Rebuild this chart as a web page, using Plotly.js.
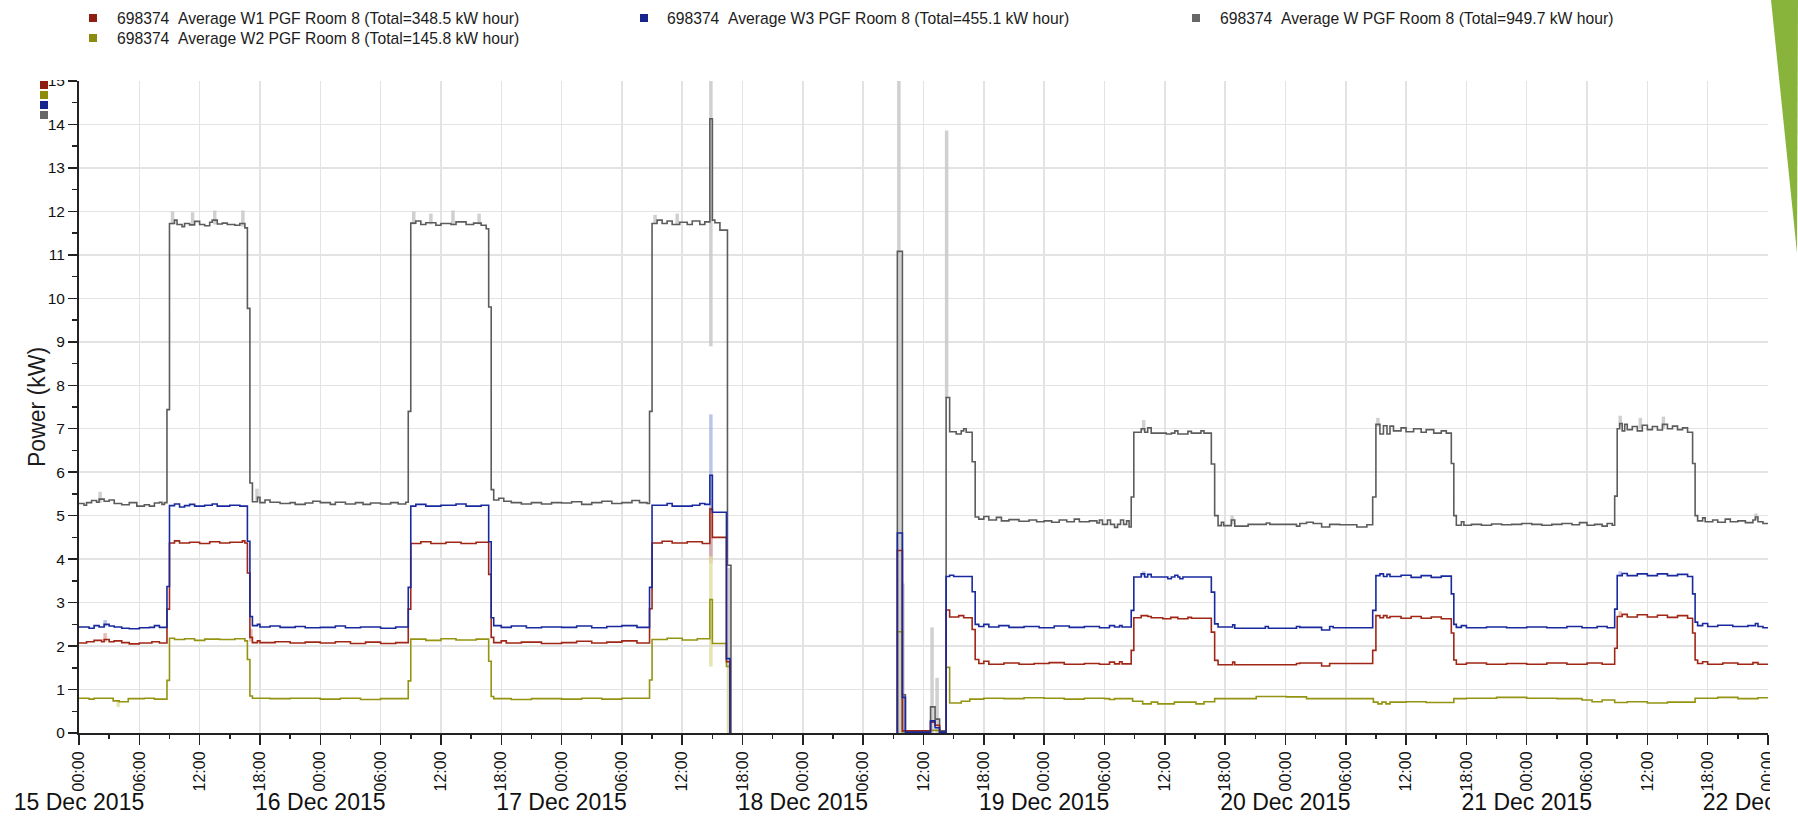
<!DOCTYPE html>
<html>
<head>
<meta charset="utf-8">
<script src="https://cdn.plot.ly/plotly-3.0.1.min.js"></script>
<style>html,body{margin:0;padding:0;background:#fff;}#chart{width:1798px;height:816px;}</style>
</head>
<body>
<div id="chart"></div>
<script>
// ---- DATA (time in hours from 15 Dec 2015 00:00, value in kW) ----
const legendNames = [
  "698374\u00a0\u00a0Average W1 PGF Room 8 (Total=348.5 kW hour)",
  "698374\u00a0\u00a0Average W2 PGF Room 8 (Total=145.8 kW hour)",
  "698374\u00a0\u00a0Average W3 PGF Room 8 (Total=455.1 kW hour)",
  "698374\u00a0\u00a0Average W PGF Room 8 (Total=949.7 kW hour)"
];
const dayLabels = ["15 Dec 2015","16 Dec 2015","17 Dec 2015","18 Dec 2015","19 Dec 2015","20 Dec 2015","21 Dec 2015","22 Dec 2015"];
const dayDates = ["2015-12-15","2015-12-16","2015-12-17","2015-12-18","2015-12-19","2015-12-20","2015-12-21","2015-12-22"];

const wSteps = [
 [0,5.28],[0.5,5.24],[0.75,5.3],[1.25,5.35],[1.75,5.31],[2.0,5.38],[2.5,5.33],[3.0,5.36],[3.5,5.28],[4.25,5.25],[5.0,5.3],[5.75,5.22],[6.5,5.25],[7.0,5.22],[7.5,5.29],[8.0,5.31],[8.25,5.26],[8.5,5.3],
 [8.75,7.44],[9.0,11.72],[9.5,11.8],[9.75,11.7],[10.25,11.65],[10.5,11.72],[11.0,11.69],[11.5,11.77],[12.0,11.7],[12.5,11.67],[13.0,11.75],[13.25,11.8],[13.75,11.71],[14.25,11.73],[14.75,11.7],[15.5,11.68],[16.0,11.72],[16.5,11.62],
 [16.75,9.77],[17.0,5.75],[17.25,5.32],[17.75,5.42],[18.0,5.3],[18.5,5.36],[19.0,5.31],[20.0,5.28],[21.0,5.3],[21.5,5.26],[22.5,5.29],[23.25,5.33],
 [24.0,5.3],[25.0,5.26],[25.5,5.31],[26.5,5.27],[27.5,5.3],[28.25,5.26],[29.0,5.29],[30.0,5.27],[31.0,5.3],[31.75,5.27],[32.5,5.31],
 [32.75,7.4],[33.0,11.73],[33.5,11.78],[34.0,11.7],[34.5,11.74],[35.5,11.68],[36.0,11.72],[37.0,11.7],[37.5,11.76],[38.5,11.7],[39.25,11.73],[40.0,11.68],[40.5,11.6],
 [40.75,9.8],[41.0,5.6],[41.25,5.36],[41.75,5.4],[42.25,5.33],[43.0,5.3],[44.0,5.27],[45.0,5.3],[46.0,5.27],[47.0,5.3],
 [48.0,5.29],[49.0,5.32],[50.0,5.26],[51.0,5.3],[52.0,5.33],[53.0,5.28],[54.0,5.3],[55.0,5.35],[55.75,5.3],[56.5,5.28],
 [56.75,7.4],[57.0,11.72],[57.5,11.8],[58.0,11.72],[58.5,11.78],[59.0,11.7],[59.75,11.75],[60.5,11.7],[61.0,11.78],[61.75,11.7],[62.25,11.76],
 [62.75,14.13],[63.0,11.8],[63.25,11.74],[63.75,11.57],[64.5,3.86],[64.85,0],[64.86,null],
 [81.4,0],[81.4,11.08],[81.9,0.88],[82.2,0.05],[84.7,0.6],[85.15,0.32],[85.6,0.05],
 [86.25,7.72],[86.6,6.93],[87.25,6.88],[87.75,6.95],[88.0,7.0],[88.25,6.92],[88.84,6.24],[89.14,4.97],[89.5,4.92],[90.0,4.98],[90.5,4.9],[91.25,4.96],[91.75,4.88],[92.5,4.91],[93.5,4.87],[94.5,4.9],[95.25,4.86],
 [96.0,4.88],[96.75,4.85],[97.5,4.9],[98.25,4.86],[99.0,4.92],[99.5,4.86],[100.5,4.88],[101.25,4.83],[101.5,4.9],[101.8,4.8],[102.3,4.9],[102.6,4.8],[103.0,4.73],[103.3,4.8],[103.6,4.9],[103.9,4.8],[104.2,4.88],[104.45,4.74],
 [104.66,5.43],[104.92,6.92],[105.65,7.0],[106.0,6.92],[106.3,7.02],[106.65,6.9],[108.15,6.88],[108.65,6.9],[109.0,6.95],[109.3,6.88],[110.3,6.94],[110.65,6.9],[111.6,6.95],[111.9,6.9],
 [112.63,6.19],[112.96,5.0],[113.3,4.77],[113.63,4.85],[113.86,4.77],[114.62,4.9],[114.96,4.76],[116.29,4.8],[118.1,4.83],[118.45,4.8],[121.1,4.76],[121.43,4.82],[122.1,4.85],[122.76,4.82],[123.6,4.74],[124.4,4.8],[125.4,4.79],[127.1,4.74],[128.1,4.79],
 [128.68,5.43],[129.0,7.1],[129.4,6.88],[129.75,7.07],[130.1,6.88],[130.4,7.06],[130.75,6.95],[131.5,7.02],[132.0,6.93],[132.75,7.0],[133.5,6.92],[134.0,6.98],[134.75,6.9],[135.5,6.95],[136.0,6.9],
 [136.5,6.2],[136.75,5.0],[137.0,4.78],[137.5,4.86],[137.75,4.78],[138.5,4.8],[139.5,4.78],[140.5,4.81],[141.5,4.79],[142.5,4.8],[143.5,4.82],[144.5,4.8],[145.5,4.78],[146.5,4.8],[147.5,4.82],[148.5,4.79],[149.25,4.84],[150.0,4.78],[150.75,4.8],[151.5,4.76],[152.0,4.82],[152.5,4.78],
 [152.75,5.45],[153.0,7.0],[153.25,7.12],[153.5,6.95],[153.75,7.1],[154.0,6.98],[154.5,7.05],[155.0,6.95],[155.5,7.08],[156.0,6.98],[156.5,7.05],[157.0,6.97],[157.5,7.1],[158.0,7.0],[158.5,7.06],[159.0,6.98],[159.5,7.02],[160.0,6.92],
 [160.5,6.2],[160.75,5.0],[161.0,4.88],[161.5,4.95],[161.75,4.86],[162.5,4.9],[163.0,4.85],[163.75,4.92],[164.25,4.86],[165.0,4.88],[165.75,4.84],[166.5,4.9],[166.75,4.97],[167.0,4.86],[167.5,4.82],[168,4.82]
];

const w3Steps = [
 [0,2.44],[1.0,2.41],[1.5,2.47],[2.0,2.44],[2.5,2.5],[3.0,2.46],[3.5,2.44],[4.25,2.41],[5.0,2.4],[6.0,2.42],[7.0,2.43],[7.5,2.47],[8.0,2.43],
 [8.75,3.37],[9.0,5.23],[9.5,5.27],[10.0,5.2],[10.5,5.23],[11.0,5.26],[11.5,5.22],[12.5,5.24],[13.25,5.27],[13.75,5.22],[15.0,5.24],[16.0,5.22],
 [16.75,4.41],[17.0,2.68],[17.25,2.47],[17.75,2.5],[18.0,2.44],[19.0,2.46],[20.0,2.43],[21.5,2.45],[22.5,2.42],
 [24.0,2.43],[25.5,2.46],[26.5,2.42],[28.0,2.44],[30.0,2.41],[31.5,2.44],
 [32.75,3.35],[33.0,5.22],[33.5,5.26],[34.5,5.22],[36.0,5.24],[37.5,5.27],[38.5,5.22],[40.0,5.24],
 [40.75,4.4],[41.0,2.65],[41.25,2.47],[42.0,2.43],[43.0,2.46],[44.5,2.42],[46.0,2.44],
 [48.0,2.43],[49.5,2.46],[51.0,2.42],[52.5,2.45],[54.0,2.47],[55.5,2.43],
 [56.75,3.35],[57.0,5.24],[58.5,5.28],[59.0,5.22],[61.0,5.24],[61.75,5.28],[62.25,5.26],[62.75,5.93],[63.0,5.08],[64.4,1.71],[64.75,0],[64.76,null],
 [81.4,0],[81.4,4.6],[81.9,0.82],[82.2,0.02],[84.7,0.28],[85.15,0.12],[85.6,0.02],
 [86.25,3.6],[86.6,3.63],[87.0,3.6],[88.84,3.25],[89.14,2.5],[89.5,2.45],[90.0,2.5],[90.5,2.44],[91.5,2.47],[92.5,2.43],[94.0,2.45],[95.5,2.42],
 [97.0,2.46],[98.5,2.43],[100.0,2.45],[101.5,2.42],[102.5,2.47],[103.0,2.44],[103.5,2.47],[103.75,2.44],
 [104.66,2.82],[104.92,3.59],[105.65,3.66],[106.0,3.59],[106.3,3.65],[106.65,3.59],[108.3,3.55],[108.65,3.59],[109.0,3.63],[109.3,3.59],[109.5,3.55],[109.8,3.59],
 [112.63,3.24],[112.96,2.51],[113.3,2.44],[114.75,2.49],[114.96,2.41],[118.0,2.45],[118.3,2.41],[121.1,2.45],[121.43,2.43],[123.6,2.37],[124.4,2.45],[124.75,2.42],
 [128.68,2.82],[129.0,3.62],[129.4,3.66],[129.75,3.6],[130.1,3.65],[130.4,3.6],[131.5,3.63],[132.5,3.58],[133.5,3.62],[134.5,3.58],[135.5,3.61],
 [136.5,3.2],[136.75,2.5],[137.0,2.43],[137.5,2.47],[138.0,2.42],[140.0,2.44],[142.0,2.42],[144.0,2.44],[146.0,2.42],[148.0,2.45],[149.5,2.42],[151.0,2.45],[152.0,2.42],
 [152.75,2.85],[153.0,3.62],[153.5,3.67],[154.0,3.62],[155.0,3.66],[156.0,3.62],[157.0,3.66],[158.0,3.62],[159.0,3.65],[160.0,3.6],
 [160.5,3.2],[160.75,2.55],[161.0,2.47],[161.5,2.52],[162.0,2.45],[163.0,2.48],[164.5,2.45],[166.0,2.47],[166.75,2.52],[167.0,2.45],[167.5,2.42],[168,2.42]
];

const w1Steps = [
 [0,2.07],[0.75,2.1],[1.5,2.13],[2.25,2.1],[2.5,2.15],[3.0,2.1],[3.5,2.12],[4.25,2.08],[5.0,2.05],[6.0,2.07],[7.25,2.1],[8.0,2.07],
 [8.75,2.85],[9.0,4.37],[9.5,4.42],[10.0,4.37],[11.0,4.39],[12.0,4.36],[13.0,4.4],[14.0,4.37],[15.0,4.39],[16.25,4.42],[16.5,4.37],
 [16.75,3.68],[17.0,2.2],[17.25,2.08],[17.75,2.12],[18.0,2.08],[19.5,2.1],[21.0,2.07],[22.5,2.09],
 [24.0,2.07],[25.5,2.1],[27.0,2.06],[28.5,2.09],[30.0,2.06],[31.5,2.08],
 [32.75,2.85],[33.0,4.36],[34.0,4.4],[35.0,4.36],[36.5,4.39],[38.0,4.36],[39.5,4.39],
 [40.75,3.65],[41.0,2.2],[41.25,2.08],[42.0,2.12],[42.5,2.07],[44.0,2.09],[46.0,2.06],
 [48.0,2.08],[49.5,2.11],[51.0,2.07],[52.5,2.09],[54.0,2.12],[55.5,2.07],
 [56.75,2.86],[57.0,4.37],[58.0,4.41],[59.0,4.37],[60.5,4.4],[62.0,4.36],[62.75,5.15],[63.0,4.5],[64.4,1.64],[64.75,0],[64.76,null],
 [81.4,0],[81.4,4.2],[81.9,0.05],[84.7,0.25],[85.15,0.18],[85.6,0.02],
 [86.25,2.83],[86.6,2.67],[87.5,2.7],[88.0,2.65],[88.84,2.38],[89.14,1.69],[89.5,1.6],[90.0,1.65],[90.5,1.58],[92.0,1.61],[93.5,1.58],[95.0,1.6],
 [96.5,1.62],[98.0,1.58],[100.0,1.6],[101.5,1.58],[102.5,1.63],[103.0,1.59],[103.5,1.64],[103.75,1.59],
 [104.66,1.9],[104.92,2.65],[105.65,2.7],[106.3,2.68],[106.65,2.65],[107.8,2.63],[108.6,2.66],[109.3,2.63],[110.3,2.66],[110.65,2.64],
 [112.63,2.32],[112.96,1.67],[113.3,1.57],[114.75,1.63],[114.96,1.57],[121.1,1.6],[121.43,1.61],[123.6,1.54],[124.4,1.6],
 [128.68,1.9],[129.0,2.7],[129.4,2.65],[129.75,2.7],[130.1,2.65],[130.4,2.68],[131.5,2.64],[132.5,2.68],[133.5,2.64],[134.5,2.67],[135.5,2.63],
 [136.5,2.3],[136.75,1.68],[137.0,1.58],[138.0,1.61],[140.0,1.58],[142.0,1.6],[144.0,1.58],[146.0,1.61],[148.0,1.58],[150.0,1.61],[151.5,1.58],
 [152.75,1.95],[153.0,2.68],[153.5,2.73],[154.0,2.67],[155.0,2.72],[156.0,2.67],[157.0,2.71],[158.0,2.66],[159.0,2.7],[160.0,2.64],
 [160.5,2.3],[160.75,1.68],[161.0,1.6],[161.5,1.64],[162.0,1.58],[163.5,1.61],[165.0,1.58],[166.5,1.62],[167.0,1.58],[168,1.58]
];

const w2Steps = [
 [0,0.8],[1.0,0.78],[1.5,0.8],[3.4,0.74],[4.0,0.72],[4.9,0.79],[6.5,0.8],[7.5,0.78],
 [8.75,1.21],[9.0,2.18],[9.5,2.15],[10.5,2.17],[11.5,2.13],[12.5,2.16],[14.0,2.15],[15.5,2.17],[16.5,2.12],
 [16.75,1.69],[17.0,0.85],[17.25,0.8],[19.0,0.79],[21.0,0.8],
 [24.0,0.78],[26.0,0.8],[28.0,0.77],[30.0,0.79],
 [32.75,1.2],[33.0,2.16],[34.5,2.13],[36.0,2.17],[37.5,2.14],[39.5,2.16],
 [40.75,1.65],[41.0,0.84],[41.25,0.79],[43.0,0.77],[45.0,0.79],
 [48.0,0.78],[50.0,0.8],[52.0,0.78],[54.0,0.8],
 [56.75,1.22],[57.0,2.15],[58.5,2.18],[60.0,2.14],[61.5,2.17],[62.75,3.07],[63.0,2.06],[64.4,1.53],[64.75,0],[64.76,null],
 [81.4,0],[81.4,2.33],[81.9,0.03],[84.7,0.06],[85.6,0.02],
 [86.25,1.51],[86.6,0.69],[87.75,0.73],[88.6,0.78],[90.0,0.8],[92.0,0.79],[94.0,0.81],
 [96.0,0.8],[98.0,0.78],[100.0,0.8],[102.0,0.79],[102.5,0.77],[103.0,0.79],
 [104.8,0.73],[105.8,0.67],[106.65,0.71],[107.3,0.67],[108.95,0.71],[111.1,0.67],[111.9,0.72],[112.96,0.79],[117.1,0.84],[120.1,0.83],[122.1,0.79],
 [128.75,0.71],[129.2,0.67],[129.6,0.71],[130.0,0.67],[130.4,0.71],[132.0,0.72],[134.0,0.7],
 [136.75,0.79],[138.0,0.8],[141.0,0.82],[144.0,0.8],[147.0,0.79],[149.5,0.76],[150.5,0.72],[151.5,0.76],
 [152.75,0.7],[154.0,0.72],[156.0,0.69],[158.0,0.71],[160.75,0.8],[163.0,0.82],[165.0,0.79],[167.0,0.81],[168,0.8]
];

// light (max-value) excursions: [hour, low, high]
const wMax = [
 [2.1,5.3,5.55],[9.3,11.7,12.0],[11.3,11.7,11.98],[13.5,11.7,12.02],[16.3,11.65,12.02],[17.7,5.35,5.62],
 [33.3,11.7,12.0],[35.0,11.7,11.95],[37.2,11.7,12.02],[39.8,11.7,11.95],[57.3,11.72,11.92],[59.5,11.7,11.95],
 [62.85,8.9,15.5],[64.65,0,3.8],[81.55,11.0,15.5],[81.65,0,11.0],[81.95,0,3.44],[84.85,0,2.43],[85.35,0,1.27],[86.3,7.7,13.86],
 [105.9,6.95,7.2],[114.7,4.8,5.0],[129.2,7.05,7.25],[153.3,7.05,7.3],[155.3,7.0,7.25],[157.6,7.0,7.28],[166.8,4.9,5.05]
];
const w3Max = [[2.6,2.45,2.6],[62.85,4.0,7.33],[81.95,0,0.9],[105.9,3.6,3.72],[153.3,3.62,3.72]];
const w1Max = [[2.6,2.1,2.3],[62.85,3.9,5.2],[17.1,2.1,2.4],[153.3,2.68,2.8]];
const w2Max = [[3.9,0.6,0.75],[62.85,1.53,4.07],[64.6,0,1.5]];

// ---- helpers ----
const T0 = Date.UTC(2015,11,15);
const toX = h => T0 + h*3600000;
const L = 79, R = 1768, TOP = 81, BOT = 733;
const px = v => (v - L)/(R - L);
const py = v => (BOT - v)/(BOT - TOP);

function stepTrace(steps, color){
  return {x: steps.map(p=>toX(p[0])), y: steps.map(p=>p[1]), type:'scatter', mode:'lines',
    line:{shape:'hv', width:1.6, color:color}, connectgaps:false, hoverinfo:'skip'};
}
function maxTrace(list, color){
  const x=[], y=[];
  list.forEach(s=>{x.push(toX(s[0]),toX(s[0]),null); y.push(s[1],s[2],null);});
  return {x:x, y:y, type:'scatter', mode:'lines', line:{width:3.5, color:color}, hoverinfo:'skip'};
}

const cRed='rgb(160,38,22)', cOl='rgb(148,148,18)', cBlue='rgb(24,42,158)', cGray='rgb(92,92,92)';
const traces = [
  maxTrace(wMax,'rgba(200,200,200,0.85)'),
  maxTrace(w3Max,'rgba(160,172,222,0.7)'),
  maxTrace(w1Max,'rgba(222,160,150,0.7)'),
  maxTrace(w2Max,'rgba(222,222,160,0.8)'),
  stepTrace(wSteps,cGray),
  stepTrace(w2Steps,cOl),
  stepTrace(w1Steps,cRed),
  stepTrace(w3Steps,cBlue)
];

// legend (manual, as in the original)
const legendItems = [
  {name:legendNames[0], color:'#8e1d12', sx:93, tx:115, y:18},
  {name:legendNames[1], color:'#8c8c0c', sx:93, tx:115, y:38},
  {name:legendNames[2], color:'#16268e', sx:644, tx:665, y:18},
  {name:legendNames[3], color:'#676767', sx:1196, tx:1218, y:18}
];
const annotations = [], shapes = [];
legendItems.forEach(it=>{
  shapes.push({type:'rect', xref:'paper', yref:'paper', x0:px(it.sx-4), x1:px(it.sx+4), y0:py(it.y+4), y1:py(it.y-4),
    fillcolor:it.color, line:{width:0}, layer:'above'});
  annotations.push({xref:'paper', yref:'paper', x:px(it.tx), y:py(it.y), xanchor:'left', yanchor:'middle', showarrow:false,
    text:it.name, font:{size:15.7, color:'#1c1c1c', family:'Liberation Sans, Arial, sans-serif'}});
});
// y-axis title
annotations.push({xref:'paper', yref:'paper', x:px(37), y:0.5, xanchor:'center', yanchor:'middle', showarrow:false,
  textangle:-90, text:'Power (kW)', font:{size:23, color:'#1c1c1c', family:'Liberation Sans, Arial, sans-serif'}});
// clip boxes (original control clips text at its edges)
shapes.push({type:'rect', xref:'paper', yref:'paper', x0:px(44), x1:px(76), y0:py(80), y1:py(66), fillcolor:'#fff', line:{width:0}, layer:'above'});
shapes.push({type:'rect', xref:'paper', yref:'paper', x0:px(1770), x1:px(1798), y0:py(816), y1:py(735), fillcolor:'#fff', line:{width:0}, layer:'above'});
// small colour key at top of the y axis
['#8e1d12','#8c8c0c','#16268e','#676767'].forEach((c,i)=>{
  shapes.push({type:'rect', xref:'paper', yref:'paper', x0:px(40), x1:px(48), y0:py(81+10*i+8), y1:py(81+10*i),
    fillcolor:c, line:{width:0}, layer:'above'});
});
// green decoration at the top-right corner
shapes.push({type:'path', xref:'paper', yref:'paper', layer:'above',
  path:`M ${px(1771)} ${py(0)} L ${px(1798)} ${py(0)} L ${px(1797)} ${py(253)} Z`, fillcolor:'#89b43c', line:{width:0}});

const range = [toX(0), toX(168)];
const layout = {
  width:1798, height:816,
  margin:{l:L, r:1798-R, t:TOP, b:816-BOT},
  paper_bgcolor:'#fff', plot_bgcolor:'#fff',
  font:{family:'Liberation Sans, Arial, sans-serif', color:'#1c1c1c'},
  showlegend:false,
  xaxis:{type:'date', range:range, tick0:toX(0), dtick:6*3600000, tickformat:'%H:%M', tickangle:-90,
    tickfont:{size:16, color:'#111'}, ticks:'outside', ticklen:10, tickwidth:1.5, tickcolor:'#222',
    showgrid:true, gridcolor:'#e3e3e3', gridwidth:1.5, showline:true, linecolor:'#222', linewidth:2,
    zeroline:false, automargin:false, ticklabeloverflow:'allow',
    minor:{dtick:3*3600000, ticks:'outside', ticklen:4, tickwidth:1.5, tickcolor:'#222', showgrid:false}},
  xaxis2:{type:'date', range:range, overlaying:'x', anchor:'y', side:'bottom',
    tickmode:'array', tickvals:dayDates, ticktext:dayLabels, ticks:'', showgrid:false, showline:false, zeroline:false,
    tickfont:{size:23, color:'#111'}, ticklabelstandoff:53, automargin:false, ticklabeloverflow:'allow'},
  yaxis:{range:[0,15], dtick:1, tick0:0, ticks:'outside', ticklen:9, tickwidth:1.5, tickcolor:'#222',
    tickfont:{size:15.5, color:'#111'}, showgrid:true, gridcolor:'#e3e3e3', gridwidth:1.5,
    showline:true, linecolor:'#222', linewidth:2, zeroline:false, automargin:false,
    minor:{dtick:0.5, ticks:'outside', ticklen:5, tickwidth:1.5, tickcolor:'#222', showgrid:false}},
  annotations:annotations, shapes:shapes
};
traces.push({x:[toX(0)], y:[null], xaxis:'x2', type:'scatter', mode:'lines', hoverinfo:'skip'});
Plotly.newPlot('chart', traces, layout, {displayModeBar:false, staticPlot:true});
</script>
</body>
</html>
